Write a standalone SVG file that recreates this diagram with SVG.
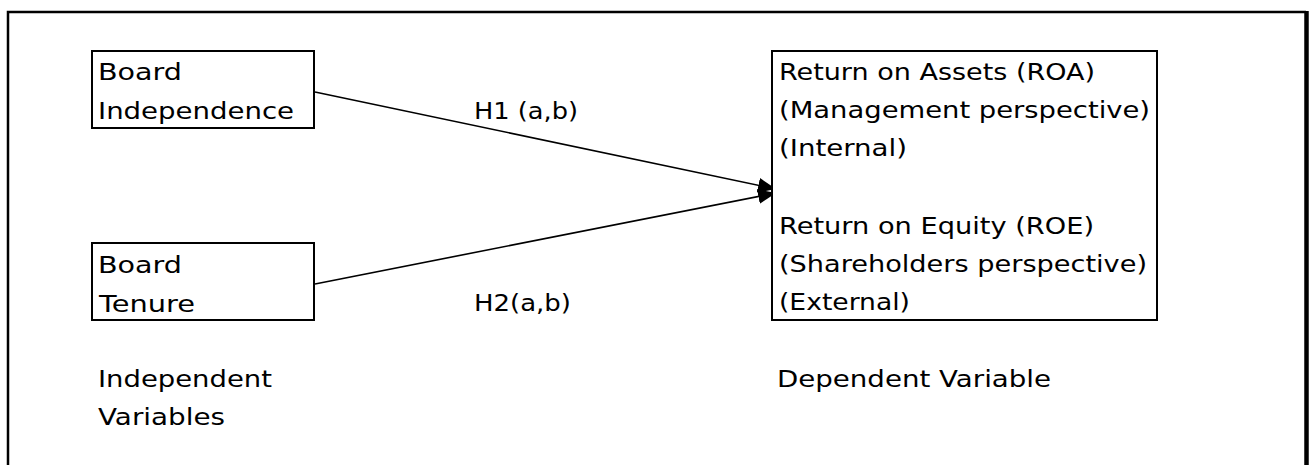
<svg xmlns="http://www.w3.org/2000/svg" width="1311" height="465" viewBox="0 0 1311 465">
<style>
text { font-family: "DejaVu Sans", "Liberation Sans", sans-serif; font-size: 23.5px; fill: #000; }
.box { fill: #fff; stroke: #000; stroke-width: 2; }
.conn { fill: none; stroke: #000; stroke-width: 1.6; }
</style>
<defs>
<marker id="arrow" markerUnits="userSpaceOnUse" markerWidth="20" markerHeight="16" refX="18" refY="7.5" orient="auto">
<path d="M0,0 L18,7.5 L0,15 z" fill="#000"/>
</marker>
</defs>
<rect x="0" y="0" width="1311" height="465" fill="#fff"/>
<g id="frame">
<path d="M8,470 L8,12 L1306,12" fill="none" stroke="#000" stroke-width="2.5"/>
<line x1="1306.5" y1="11" x2="1306.5" y2="470" stroke="#000" stroke-width="4.5"/>
</g>
<g id="connectors">
<line class="conn" x1="315" y1="92" x2="776" y2="189" marker-end="url(#arrow)"/>
<line class="conn" x1="315" y1="284" x2="776" y2="193" marker-end="url(#arrow)"/>
</g>
<g id="board-independence">
<rect class="box" x="92" y="51" width="222" height="77"/>
<text x="98" y="80" textLength="84" lengthAdjust="spacingAndGlyphs">Board</text>
<text x="98" y="119" textLength="196" lengthAdjust="spacingAndGlyphs">Independence</text>
</g>
<g id="board-tenure">
<rect class="box" x="92" y="243" width="222" height="77"/>
<text x="98" y="273" textLength="84" lengthAdjust="spacingAndGlyphs">Board</text>
<text x="99" y="312" textLength="96" lengthAdjust="spacingAndGlyphs">Tenure</text>
</g>
<g id="performance">
<rect class="box" x="772" y="51" width="385" height="269"/>
<text x="779" y="80" textLength="316" lengthAdjust="spacingAndGlyphs">Return on Assets (ROA)</text>
<text x="779" y="118" textLength="371" lengthAdjust="spacingAndGlyphs">(Management perspective)</text>
<text x="779" y="156" textLength="128" lengthAdjust="spacingAndGlyphs">(Internal)</text>
<text x="779" y="234" textLength="315" lengthAdjust="spacingAndGlyphs">Return on Equity (ROE)</text>
<text x="779" y="272" textLength="368" lengthAdjust="spacingAndGlyphs">(Shareholders perspective)</text>
<text x="779" y="310" textLength="131" lengthAdjust="spacingAndGlyphs">(External)</text>
</g>
<g id="labels">
<text x="474" y="119" textLength="104" lengthAdjust="spacingAndGlyphs">H1 (a,b)</text>
<text x="474" y="311" textLength="97" lengthAdjust="spacingAndGlyphs">H2(a,b)</text>
<text x="98" y="387" textLength="174" lengthAdjust="spacingAndGlyphs">Independent</text>
<text x="98" y="425" textLength="127" lengthAdjust="spacingAndGlyphs">Variables</text>
<text x="777" y="387" textLength="274" lengthAdjust="spacingAndGlyphs">Dependent Variable</text>
</g>
</svg>
